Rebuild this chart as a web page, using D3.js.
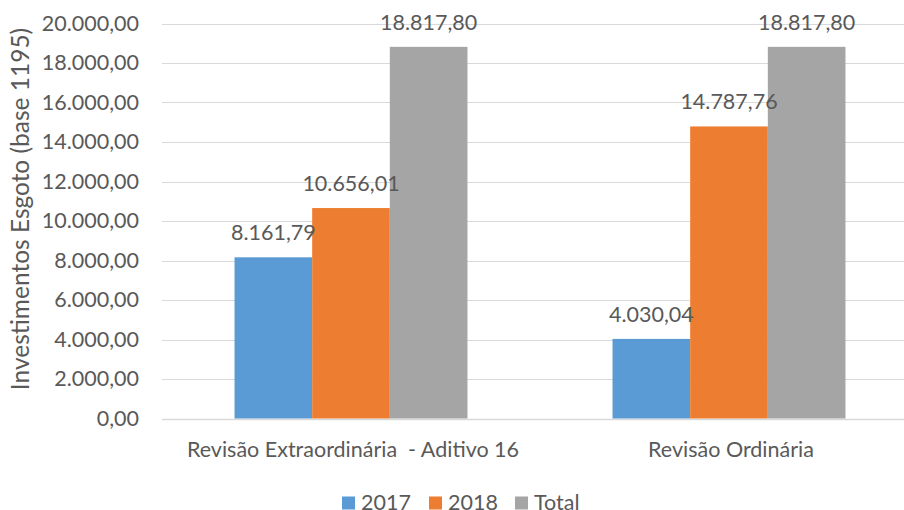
<!DOCTYPE html>
<html>
<head>
<meta charset="utf-8">
<script src="https://cdn.jsdelivr.net/npm/d3@7"></script>
<style>
  body { margin: 0; background: #fff; }
  svg text { font-family: Lato, "Open Sans", sans-serif; fill: #595959; white-space: pre; }
</style>
</head>
<body>
<svg id="chart" width="904" height="510"></svg>
<script>
// data
var categories = ["Revisão Extraordinária  - Aditivo 16", "Revisão Ordinária"];
var seriesNames = ["2017", "2018", "Total"];
var values2017 = [8161.79, 4030.04];
var values2018 = [10656.01, 14787.76];
var valuesTotal = [18817.80, 18817.80];
var yTicks = [0, 2000, 4000, 6000, 8000, 10000, 12000, 14000, 16000, 18000, 20000];
var colors = ["#5b9bd5", "#ed7d31", "#a5a5a5"];

var svg = d3.select("#chart");
var fs = 21.5;

// pt-BR number format: 18.817,80
var ptBR = d3.formatLocale({decimal: ",", thousands: ".", grouping: [3], currency: ["R$", ""]});
var fmt = ptBR.format(",.2f");

var plotL = 162, plotR = 918, plotT = 23.5, plotB = 418.5;

var x0 = d3.scaleBand().domain(categories).range([plotL, plotR]).padding(0);
var x1 = d3.scaleBand().domain(seriesNames).range([0, x0.bandwidth()])
    .paddingInner(0).paddingOuter(0.934);
var y = d3.scaleLinear().domain([0, 20000]).range([plotB, plotT]);

var rows = categories.map(function (c, i) {
    return {cat: c, vals: [values2017[i], values2018[i], valuesTotal[i]]};
});

// gridlines
svg.append("g").selectAll("line")
    .data(yTicks)
    .join("line")
    .attr("x1", plotL).attr("x2", plotR)
    .attr("y1", d => Math.round(y(d)) + 0.5).attr("y2", d => Math.round(y(d)) + 0.5)
    .attr("stroke", "#d9d9d9")
    .attr("stroke-width", d => d === 0 ? 1.5 : 1);

// y tick labels
svg.append("g").selectAll("text")
    .data(yTicks)
    .join("text")
    .attr("x", 139)
    .attr("y", d => y(d) + 7)
    .attr("text-anchor", "end")
    .style("font-size", fs + "px")
    .text(d => fmt(d));

// bars
var grp = svg.append("g").selectAll("g")
    .data(rows)
    .join("g")
    .attr("transform", d => `translate(${x0(d.cat)},0)`);

grp.selectAll("rect")
    .data(d => d.vals.map((v, j) => ({name: seriesNames[j], v: v, j: j})))
    .join("rect")
    .attr("x", d => x1(d.name))
    .attr("width", x1.bandwidth())
    .attr("y", d => y(d.v))
    .attr("height", d => plotB - y(d.v))
    .attr("fill", d => colors[d.j]);

grp.selectAll("text")
    .data(d => d.vals.map((v, j) => ({name: seriesNames[j], v: v, j: j})))
    .join("text")
    .attr("x", d => x1(d.name) + x1.bandwidth() / 2)
    .attr("y", d => y(d.v) - 17)
    .attr("text-anchor", "middle")
    .style("font-size", fs + "px")
    .text(d => fmt(d.v));

// category labels
svg.append("g").selectAll("text")
    .data(categories)
    .join("text")
    .attr("x", d => x0(d) + x0.bandwidth() / 2 + 2)
    .attr("y", 456.5)
    .attr("text-anchor", "middle")
    .style("font-size", fs + "px")
    .text(d => d);

// y axis title
svg.append("text")
    .attr("transform", `translate(28.5,${(plotT + plotB) / 2 - 12}) rotate(-90)`)
    .attr("text-anchor", "middle")
    .style("font-size", "24.5px")
    .text("Investimentos Esgoto (base 1195)");

// legend
var legX = [342, 429, 515];
var leg = svg.append("g").selectAll("g")
    .data(seriesNames)
    .join("g")
    .attr("transform", (d, i) => `translate(${legX[i]},0)`);
leg.append("rect")
    .attr("x", 0).attr("y", 496.5)
    .attr("width", 13).attr("height", 13)
    .attr("fill", (d, i) => colors[i]);
leg.append("text")
    .attr("x", 19).attr("y", 509.5)
    .style("font-size", fs + "px")
    .text(d => d);
</script>
</body>
</html>
